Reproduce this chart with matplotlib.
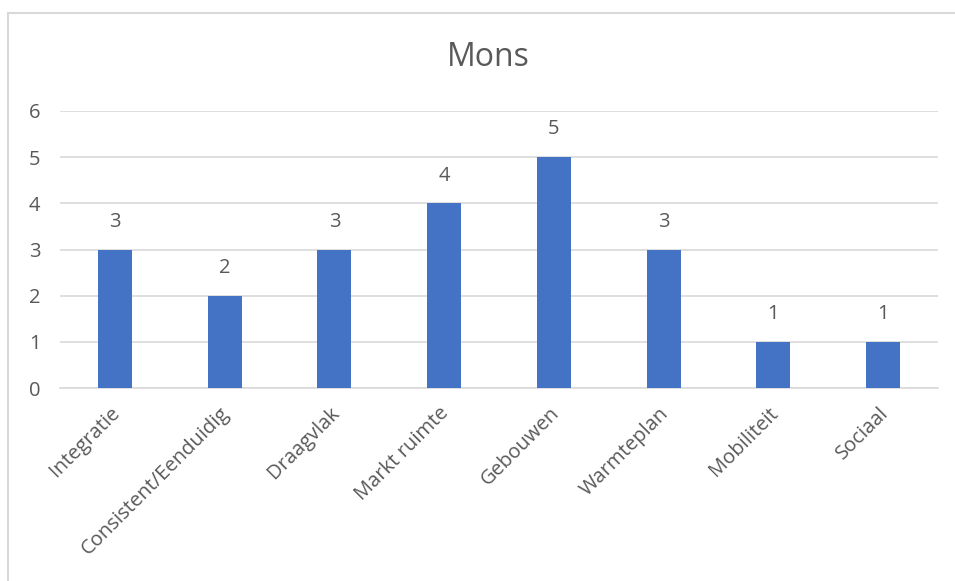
import matplotlib
matplotlib.use('Agg')
import matplotlib.pyplot as plt
import matplotlib.transforms as mtransforms
import numpy as np

plt.rcParams['font.family'] = ['Open Sans', 'DejaVu Sans']

categories = ['Integratie', 'Consistent/Eenduidig', 'Draagvlak', 'Markt ruimte',
              'Gebouwen', 'Warmteplan', 'Mobiliteit', 'Sociaal']
values = [3, 2, 3, 4, 5, 3, 1, 1]
title = 'Mons'

TEXT = '#595959'
GRID = '#d9d9d9'
BAR = '#4472C4'

fig = plt.figure(figsize=(9.55, 5.81), dpi=100)
ax = fig.add_axes([60 / 955, 1 - 388 / 581, 878 / 955, 277 / 581])

x = np.arange(len(categories))
ax.bar(x, values, width=0.31, color=BAR, zorder=3)

for xi, v in zip(x, values):
    ax.annotate(str(v), (xi, v), xytext=(0, 20), textcoords='offset points',
                ha='center', va='center', fontsize=14.5, color=TEXT)

ax.set_xlim(-0.5, len(categories) - 0.5)
ax.set_ylim(0, 6)
ax.set_yticks(range(0, 7))
ax.yaxis.grid(True, color=GRID, lw=1.2, zorder=0)
ax.set_axisbelow(True)
for s in ['top', 'right', 'left']:
    ax.spines[s].set_visible(False)
ax.spines['bottom'].set_color(GRID)
ax.spines['bottom'].set_linewidth(1.2)
ax.tick_params(axis='both', length=0, colors=TEXT, labelsize=14.5)
ax.tick_params(axis='y', pad=14)
ax.tick_params(axis='x', pad=11)

ax.set_xticks(x)
ax.set_xticklabels(categories, rotation=45, ha='right', rotation_mode='anchor')
shift = mtransforms.ScaledTranslation(-5 / 100, 0, fig.dpi_scale_trans)
for lbl in ax.get_xticklabels():
    lbl.set_transform(lbl.get_transform() + shift)

fig.text(488 / 955, 1 - 58 / 581, title, ha='center', va='center',
         fontsize=23, color=TEXT)

# chart area border (left and top edges visible)
fig.add_artist(plt.Line2D([8 / 955, 8 / 955], [0, 1 - 13 / 581],
                          transform=fig.transFigure, color=GRID, lw=1.5))
fig.add_artist(plt.Line2D([8 / 955, 1], [1 - 13 / 581, 1 - 13 / 581],
                          transform=fig.transFigure, color=GRID, lw=1.5))

fig.savefig('out.png', dpi=100)
